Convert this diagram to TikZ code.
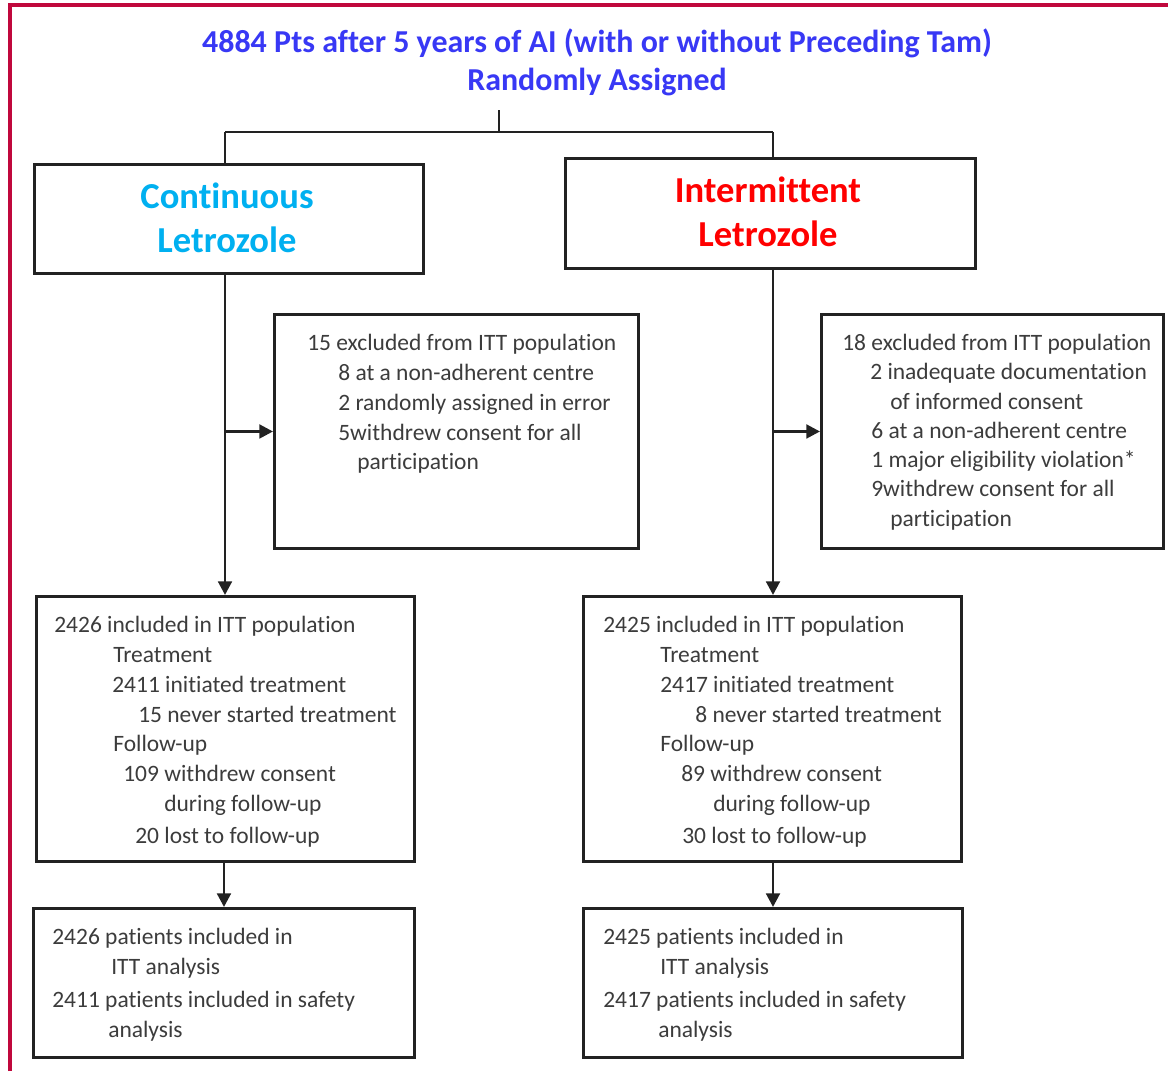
\documentclass[tikz,border=0pt]{standalone}
\usepackage{fontspec}
\setmainfont{Carlito}[Ligatures=NoCommon]
\usetikzlibrary{arrows.meta}
\definecolor{crim}{HTML}{C0083C}
\definecolor{ttl}{HTML}{3838F5}
\definecolor{cyanc}{HTML}{00B0F0}
\definecolor{redc}{HTML}{FF0000}
\definecolor{txtc}{HTML}{3C3C3C}
\definecolor{linec}{HTML}{222222}
\tikzset{
  pbox/.style 2 args={draw=linec, line width=2.1pt, minimum width=#1*0.025cm, minimum height=#2*0.025cm, inner sep=0pt, anchor=north west},
  ttlfont/.style={text=ttl, font=\fontsize{22.7}{27}\selectfont\bfseries, anchor=base, inner sep=0pt},
  headfont/.style={font=\fontsize{26}{31}\selectfont\bfseries, anchor=base, inner sep=0pt},
  ln/.style={text=txtc, font=\fontsize{16.7}{20}\selectfont, anchor=base west, inner sep=0pt},
  conn/.style={draw=linec, line width=2.1pt},
  arr/.style={conn, -{Triangle[length=0.34cm,width=0.34cm]}},
}
\begin{document}
\begin{tikzpicture}[x=0.025cm,y=-0.025cm]
\useasboundingbox (0,0) rectangle (1168,1071);
\fill[white] (0,0) rectangle (1168,1071);
% frame
\draw[crim, line width=2.2pt] (10,1071) -- (10,5) -- (1168,5);
% title
\node[ttlfont] (t1) at (597,53) {4884 Pts after 5 years of AI (with or without Preceding Tam)};
\node[ttlfont] (t2) at (597,90) {Randomly Assigned};
% arm boxes
\node[pbox={389}{109}] (cont) at (33,163) {};
\node[pbox={410}{110}] (inter) at (564,157) {};
\node[headfont, text=cyanc] (c1) at (227,208) {Continuous};
\node[headfont, text=cyanc] (c2) at (227,252) {Letrozole};
\node[headfont, text=redc] (i1) at (768,202) {Intermittent};
\node[headfont, text=redc] (i2) at (768,246) {Letrozole};
% exclusion boxes
\node[pbox={364}{234}] (ex1) at (273,313) {};
\node[pbox={342}{234}] (ex2) at (820,313) {};
% ITT boxes
\node[pbox={378}{265}] (itt1) at (35,595) {};
\node[pbox={378}{265}] (itt2) at (582,595) {};
% analysis boxes
\node[pbox={381}{149}] (an1) at (32,907) {};
\node[pbox={379}{149}] (an2) at (582,907) {};
% tree coordinates
\coordinate (top) at (499,110);
\coordinate (split) at (499,132);
\coordinate (trL) at (225,132);
\coordinate (trR) at (773,132);
% connectors
\draw[conn] (top) -- (split);
\draw[conn] (trL) -- (trR);
\draw[conn] (trL) -- (trL |- cont.north);
\draw[conn] (trR) -- (trR |- inter.north);
\draw[arr] (trL |- cont.south) -- (trL |- itt1.north);
\draw[arr] (trR |- inter.south) -- (trR |- itt2.north);
\draw[arr] (trL |- ex1.west) -- (ex1.west);
\draw[arr] (trR |- ex2.west) -- (ex2.west);
\draw[arr] (itt1.south -| an1.north) -- (an1.north);
\draw[arr] (trR |- itt2.south) -- (trR |- an2.north);
% exclusion text left
\node[ln] (e1a) at (307,350) {15 excluded from ITT population};
\node[ln] (e1b) at (338,380) {8 at a non-adherent centre};
\node[ln] (e1c) at (338,410) {2 randomly assigned in error};
\node[ln] (e1d) at (338,440) {5withdrew consent for all};
\node[ln] (e1e) at (357,469) {participation};
% exclusion text right
\node[ln] (e2a) at (842,350) {18 excluded from ITT population};
\node[ln] (e2b) at (870,379) {2 inadequate documentation};
\node[ln] (e2c) at (890,409) {of informed consent};
\node[ln] (e2d) at (871,438) {6 at a non-adherent centre};
\node[ln] (e2e) at (871,467) {1 major eligibility violation*};
\node[ln] (e2f) at (871,496) {9withdrew consent for all};
\node[ln] (e2g) at (890,526) {participation};
% ITT text left
\node[ln] (l1) at (54,632) {2426 included in ITT population};
\node[ln] (l2) at (113,662) {Treatment};
\node[ln] (l3) at (112,692) {2411 initiated treatment};
\node[ln] (l4) at (138,722) {15 never started treatment};
\node[ln] (l5) at (113,751) {Follow-up};
\node[ln] (l6) at (123,781) {109 withdrew consent};
\node[ln] (l7) at (164,811) {during follow-up};
\node[ln] (l8) at (135,843) {20 lost to follow-up};
% ITT text right
\node[ln] (r1) at (603,632) {2425 included in ITT population};
\node[ln] (r2) at (660,662) {Treatment};
\node[ln] (r3) at (660,692) {2417 initiated treatment};
\node[ln] (r4) at (695,722) {8 never started treatment};
\node[ln] (r5) at (660,751) {Follow-up};
\node[ln] (r6) at (681,781) {89 withdrew consent};
\node[ln] (r7) at (713,811) {during follow-up};
\node[ln] (r8) at (682,843) {30 lost to follow-up};
% analysis text left
\node[ln] (a1) at (52,944) {2426 patients included in};
\node[ln] (a2) at (111,974) {ITT analysis};
\node[ln] (a3) at (52,1007) {2411 patients included in safety};
\node[ln] (a4) at (108,1037) {analysis};
% analysis text right
\node[ln] (b1) at (603,944) {2425 patients included in};
\node[ln] (b2) at (660,974) {ITT analysis};
\node[ln] (b3) at (603,1007) {2417 patients included in safety};
\node[ln] (b4) at (658,1037) {analysis};
\end{tikzpicture}
\end{document}
